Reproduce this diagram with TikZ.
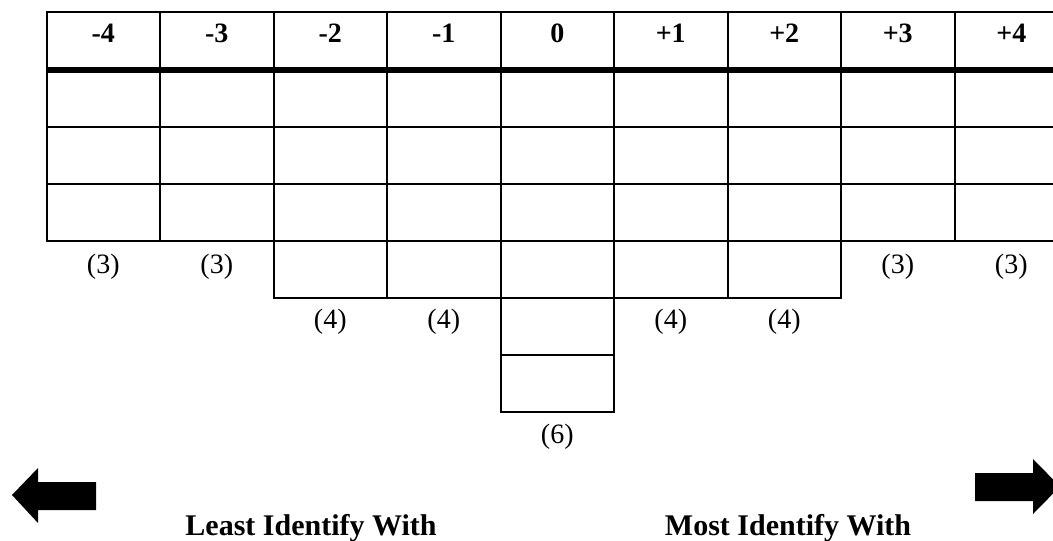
\documentclass[tikz,border=0pt]{standalone}
\usepackage{fontspec}
\setmainfont{Liberation Serif}
\usetikzlibrary{positioning}

\begin{document}
\begin{tikzpicture}[x=0.5pt, y=-0.5pt,
  cell/.style={rectangle, draw, line width=1pt, minimum width=56.75pt, minimum height=28.5pt, inner sep=0pt, outer sep=0pt},
  headcell/.style={cell, minimum height=29pt},
  head/.style={anchor=base, font=\fontsize{14}{16}\selectfont\bfseries, inner sep=0pt},
  count/.style={anchor=base, font=\fontsize{14}{16}\selectfont, inner sep=0pt},
  caption/.style={anchor=base, font=\fontsize{15}{18}\selectfont\bfseries, inner sep=0pt},
  bigarrow/.style={fill=black}]
  \useasboundingbox (0,0) rectangle (1053,540);
  \clip (0,0) rectangle (1053,540);
  \foreach \lab [count=\i from 0] in {-4,-3,-2,-1,0,+1,+2,+3,+4} {
    \node [headcell] (h\i) at (103.25+113.5*\i, 41) {};
    \node [head] (t\i) at (103.25+113.5*\i, 43) {\lab};
    \foreach \r in {1,2,3}
      \node [cell] (c\r-\i) at (103.25+113.5*\i, 41.5+57*\r) {};
  }
  \foreach \i in {2,...,6}
    \node [cell] (c4-\i) at (103.25+113.5*\i, 269.5) {};
  \node [cell] (c5-4) at (557.25, 326.5) {};
  \node [cell] (c6-4) at (557.25, 383.5) {};
  \draw [line width=3pt] (h0.south west) -- (h8.south east);
  \foreach \i in {0,1,7,8}
    \node [count] (n\i) at (103.25+113.5*\i, 273) {(3)};
  \foreach \i in {2,3,5,6}
    \node [count] (n\i) at (103.25+113.5*\i, 328) {(4)};
  \node [count] (n4) at (557.25, 443) {(6)};
  \fill [bigarrow] (12,495) -- (38,468) -- (38,482) -- (96,482) -- (96,510) -- (38,510) -- (38,523) -- cycle;
  \fill [bigarrow] (1060,486.5) -- (1033,459) -- (1033,473) -- (975,473) -- (975,501) -- (1033,501) -- (1033,514) -- cycle;
  \node [caption] (least) at (311, 535) {Least Identify With};
  \node [caption] (most) at (788, 535) {Most Identify With};
\end{tikzpicture}
\end{document}
